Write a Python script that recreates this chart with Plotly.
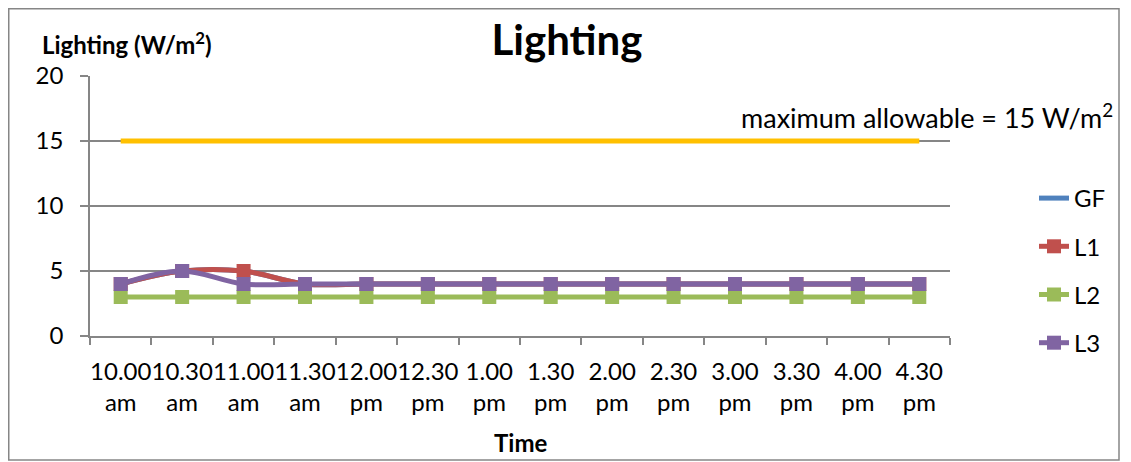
import plotly.graph_objects as go

times = ["10.00<br>am", "10.30<br>am", "11.00<br>am", "11.30<br>am", "12.00<br>pm", "12.30<br>pm",
         "1.00<br>pm", "1.30<br>pm", "2.00<br>pm", "2.30<br>pm", "3.00<br>pm", "3.30<br>pm",
         "4.00<br>pm", "4.30<br>pm"]
gf = [4, 5, 5, 4, 4, 4, 4, 4, 4, 4, 4, 4, 4, 4]
l1 = [4, 5, 5, 4, 4, 4, 4, 4, 4, 4, 4, 4, 4, 4]
l2 = [3, 3, 3, 3, 3, 3, 3, 3, 3, 3, 3, 3, 3, 3]
l3 = [4, 5, 4, 4, 4, 4, 4, 4, 4, 4, 4, 4, 4, 4]
max_allow = [15] * 14

FONT = "Lato"
W, H = 1123, 454          # page has an 8px body margin
L, R, T, B = 82, 181, 68, 126
PW, PH = W - L - R, H - T - B


def px(x):  # figure pixel -> paper x
    return (x - L) / PW


def py(y):  # figure pixel -> paper y
    return (H - B - y) / PH


fig = go.Figure()
fig.add_trace(go.Scatter(x=times, y=max_allow, mode="lines", showlegend=False,
                         line=dict(color="#FFC000", width=5)))
fig.add_trace(go.Scatter(x=times, y=gf, mode="lines", name="GF", legendgroup="gf",
                         line=dict(color="#4F81BD", width=5, shape="spline")))
fig.add_trace(go.Scatter(x=times, y=l1, mode="lines+markers", name="L1", legendgroup="l1",
                         line=dict(color="#C0504D", width=5, shape="spline"),
                         marker=dict(symbol="square", size=14, color="#C0504D")))
fig.add_trace(go.Scatter(x=times, y=l2, mode="lines+markers", name="L2", legendgroup="l2",
                         line=dict(color="#9BBB59", width=5, shape="spline"),
                         marker=dict(symbol="square", size=14, color="#9BBB59")))
fig.add_trace(go.Scatter(x=times, y=l3, mode="lines+markers", name="L3", legendgroup="l3",
                         line=dict(color="#8064A2", width=5, shape="spline"),
                         marker=dict(symbol="square", size=14, color="#8064A2")))

fig.update_layout(
    width=W, height=H,
    margin=dict(l=L, r=R, t=T, b=B),
    paper_bgcolor="white", plot_bgcolor="white",
    font=dict(family=FONT, size=24, color="black"),
    title=dict(text="<b>Lighting</b>", x=559 / W, xanchor="center", xref="container",
               y=1 - 32 / H, yanchor="middle", font=dict(size=42, family=FONT)),
    showlegend=True,
    legend=dict(x=px(1026), y=py(168), xanchor="left", yanchor="top",
                font=dict(size=24, family=FONT), tracegroupgap=14,
                bgcolor="rgba(0,0,0,0)"),
    xaxis=dict(type="category", range=[-0.5, 13.5], tickson="boundaries",
               ticks="outside", ticklen=7, tickcolor="#868686", tickwidth=1.5,
               tickangle=0, ticklabelstandoff=13,
               showline=True, linecolor="#868686", linewidth=1.5, showgrid=False,
               tickfont=dict(size=24), fixedrange=True),
    yaxis=dict(range=[0, 20], dtick=5, ticks="outside", ticklen=8, tickcolor="#868686",
               tickwidth=1.5, ticklabelstandoff=12,
               showline=True, linecolor="#868686", linewidth=1.5,
               showgrid=True, gridcolor="#868686", gridwidth=1.5,
               tickfont=dict(size=24), zeroline=False),
    annotations=[
        dict(text="<b>Lighting (W/m<sup>2</sup>)</b>", xref="paper", yref="paper",
             x=px(32), y=py(35), xanchor="left", yanchor="middle",
             showarrow=False, font=dict(size=24, family=FONT)),
        dict(text="maximum allowable = 15 W/m<sup>2</sup>", xref="paper", yref="paper",
             x=px(1107), y=py(108), xanchor="right", yanchor="middle",
             showarrow=False, font=dict(size=27, family=FONT)),
        dict(text="<b>Time</b>", xref="paper", yref="paper",
             x=0.5, y=py(435), xanchor="center", yanchor="middle",
             showarrow=False, font=dict(size=24, family=FONT)),
    ],
    shapes=[dict(type="rect", xref="paper", yref="paper",
                 x0=px(0.75), x1=px(1111), y0=py(452), y1=py(0.75),
                 line=dict(color="#868686", width=1.5), fillcolor="rgba(0,0,0,0)")],
)

fig.write_html("out.html")
